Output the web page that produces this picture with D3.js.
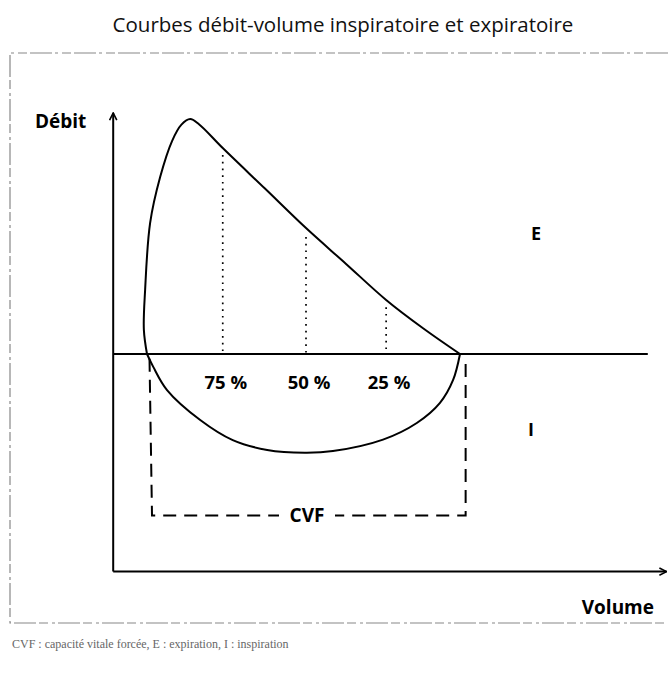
<!DOCTYPE html>
<html>
<head>
<meta charset="utf-8">
<script src="https://cdn.jsdelivr.net/npm/d3@7"></script>
<style>
  body { margin: 0; background: #fff; }
  text { font-family: "Open Sans", "Noto Sans", sans-serif; }
</style>
</head>
<body>
<div class="canvas"></div>
<script>
// expiratory loop, volume (L) / flow (L/s)
const expVolume = [0, -0.05, -0.03, 0.05, 0.21, 0.4, 0.55, 0.69, 0.83, 1.21, 1.88, 2.54, 3.18, 3.82, 4.41, 5];
const expFlow = [0, 1.03, 2.74, 5.6, 7.56, 9.1, 9.8, 10.04, 9.82, 8.8, 7.08, 5.38, 3.85, 2.31, 1.1, 0];

// inspiratory loop
const inspVolume = [0, 0.1, 0.32, 0.85, 1.37, 1.92, 2.52, 2.97, 3.77, 4.31, 4.68, 4.89, 5];
const inspFlow = [0, -0.55, -1.54, -2.82, -3.68, -4.1, -4.22, -4.15, -3.66, -2.95, -2.09, -1.11, 0];

// percent of CVF remaining
const pctLabels = ['75 %', '50 %', '25 %'];
const pctVolume = [1.21, 2.54, 3.82];
const pctFlow = [8.5, 5.0, 2.0];

const cvf = 5;

const dims = { width: 671, height: 677 };

const svg = d3
  .select('.canvas')
  .append('svg')
  .attr('width', dims.width)
  .attr('height', dims.height);

const x = d3.scaleLinear().domain([0, 5]).range([147, 460]);
const y = d3.scaleLinear().domain([0, 10]).range([354, 120]);

// title
svg
  .append('text')
  .attr('x', 343)
  .attr('y', 32)
  .attr('text-anchor', 'middle')
  .attr('font-size', 20.5)
  .attr('fill', '#111')
  .text('Courbes débit-volume inspiratoire et expiratoire');

// frame round the figure (scanned, irregular dashes)
svg
  .append('path')
  .attr('d', 'M668,53 H10 V623 H668')
  .attr('fill', 'none')
  .attr('stroke', '#888')
  .attr('stroke-width', 1.2)
  .attr('stroke-dasharray', '22 3 9 4 3 3');

// arrow heads
const defs = svg.append('defs');
defs
  .append('marker')
  .attr('id', 'arrow')
  .attr('viewBox', '0 0 10 10')
  .attr('refX', 9)
  .attr('refY', 5)
  .attr('markerWidth', 9)
  .attr('markerHeight', 9)
  .attr('markerUnits', 'userSpaceOnUse')
  .attr('orient', 'auto')
  .append('path')
  .attr('d', 'M1,1 L9,5 L1,9')
  .attr('fill', 'none')
  .attr('stroke', '#000')
  .attr('stroke-width', 1.8);

const axisX0 = -0.54;
const axisYBottom = -9.3;

// volume axis
svg
  .append('line')
  .attr('x1', x(axisX0))
  .attr('y1', y(axisYBottom))
  .attr('x2', x(8.3))
  .attr('y2', y(axisYBottom))
  .attr('stroke', '#000')
  .attr('stroke-width', 2)
  .attr('marker-end', 'url(#arrow)');

// flow axis
svg
  .append('line')
  .attr('x1', x(axisX0))
  .attr('y1', y(axisYBottom))
  .attr('x2', x(axisX0))
  .attr('y2', y(10.3))
  .attr('stroke', '#000')
  .attr('stroke-width', 2)
  .attr('marker-end', 'url(#arrow)');

// zero flow line
svg
  .append('line')
  .attr('x1', x(axisX0))
  .attr('y1', y(0))
  .attr('x2', x(8.0))
  .attr('y2', y(0))
  .attr('stroke', '#000')
  .attr('stroke-width', 2);

const line = d3
  .line()
  .x(d => x(d[0]))
  .y(d => y(d[1]))
  .curve(d3.curveCatmullRom.alpha(0.5));

svg
  .append('path')
  .attr('d', line(d3.zip(expVolume, expFlow)))
  .attr('fill', 'none')
  .attr('stroke', '#000')
  .attr('stroke-width', 2);

svg
  .append('path')
  .attr('d', line(d3.zip(inspVolume, inspFlow)))
  .attr('fill', 'none')
  .attr('stroke', '#000')
  .attr('stroke-width', 2);

// dotted drop lines
svg
  .selectAll('.drop')
  .data(d3.range(pctLabels.length))
  .enter()
  .append('line')
  .attr('class', 'drop')
  .attr('x1', i => x(pctVolume[i]))
  .attr('x2', i => x(pctVolume[i]))
  .attr('y1', i => y(pctFlow[i]))
  .attr('y2', y(0))
  .attr('stroke', '#000')
  .attr('stroke-width', 1.7)
  .attr('stroke-dasharray', '1.7 5');

svg
  .selectAll('.pct')
  .data(pctLabels)
  .enter()
  .append('text')
  .attr('class', 'pct')
  .attr('x', (d, i) => x(pctVolume[i]) + 3)
  .attr('y', 389)
  .attr('text-anchor', 'middle')
  .attr('font-size', 18.5)
  .attr('font-weight', 'bold')
  .text(d => d);

// CVF bracket
const bracketFlow = -6.9;
svg
  .append('path')
  .attr('d', `M${x(0.04)},${y(-0.2)} L${x(0.08)},${y(bracketFlow)} L${x(cvf + 0.09)},${y(bracketFlow)} L${x(cvf + 0.09)},${y(-0.2)}`)
  .attr('fill', 'none')
  .attr('stroke', '#000')
  .attr('stroke-width', 2)
  .attr('stroke-dasharray', '13 8');

svg
  .append('rect')
  .attr('x', 279)
  .attr('y', y(bracketFlow) - 10)
  .attr('width', 56)
  .attr('height', 20)
  .attr('fill', '#fff');

svg
  .append('text')
  .attr('x', 307)
  .attr('y', y(bracketFlow) + 7)
  .attr('text-anchor', 'middle')
  .attr('font-size', 19)
  .attr('font-weight', 'bold')
  .text('CVF');

// region labels
svg.append('text').attr('x', 536).attr('y', 240).attr('text-anchor', 'middle')
  .attr('font-size', 18).attr('font-weight', 'bold').text('E');
svg.append('text').attr('x', 531).attr('y', 436).attr('text-anchor', 'middle')
  .attr('font-size', 18).attr('font-weight', 'bold').text('I');

// axis titles
svg.append('text').attr('x', 35).attr('y', 128)
  .attr('font-size', 19).attr('font-weight', 'bold').text('Débit');
svg.append('text').attr('x', 654).attr('y', 614).attr('text-anchor', 'end')
  .attr('font-size', 19).attr('font-weight', 'bold').text('Volume');

// footnote
svg
  .append('text')
  .attr('x', 12)
  .attr('y', 648)
  .style('font-family', '"Liberation Serif", serif')
  .attr('font-size', 12)
  .attr('fill', '#666')
  .text('CVF : capacité vitale forcée, E : expiration, I : inspiration');
</script>
</body>
</html>
